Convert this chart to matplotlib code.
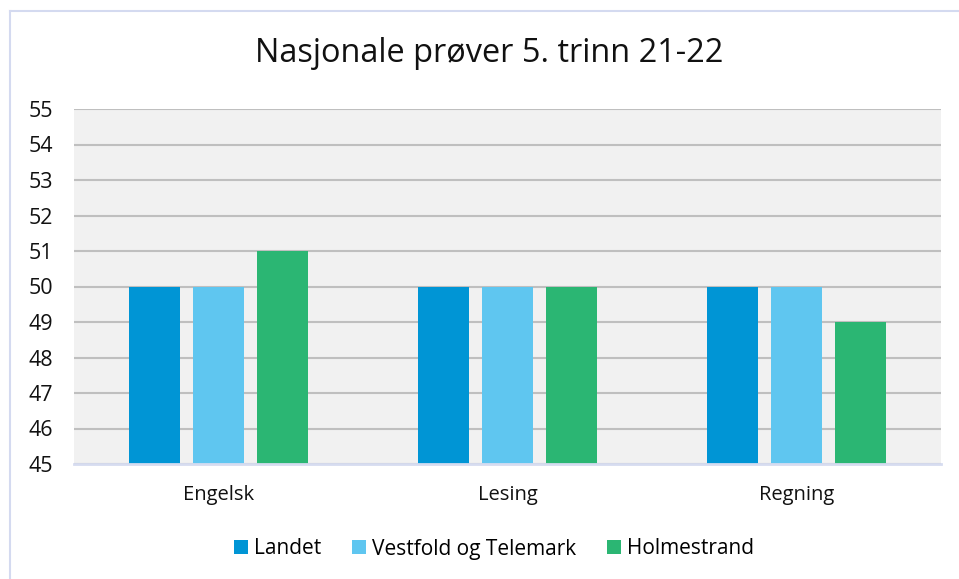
import numpy as np
import matplotlib
matplotlib.use("Agg")
import matplotlib.pyplot as plt
from matplotlib.patches import Patch

# data
subjects = ["Engelsk", "Lesing", "Regning"]
series_names = ["Landet", "Vestfold og Telemark", "Holmestrand"]
landet = [50, 50, 50]
vestfold = [50, 50, 50]
holmestrand = [51, 50, 49]
colors = ["#0095D5", "#5FC6F0", "#2BB673"]

plt.rcParams["font.family"] = ["Open Sans", "DejaVu Sans"]

fig = plt.figure(figsize=(9.59, 5.79), dpi=100)
ax = fig.add_axes([74 / 959, 1 - 464 / 579, 867 / 959, 355 / 579])

x = np.arange(len(subjects))
width = 0.176
step = 0.221
for i, (vals, name) in enumerate(zip([landet, vestfold, holmestrand], series_names)):
    ax.bar(x + (i - 1) * step, np.array(vals) - 45, width, bottom=45,
           color=colors[i], label=name, zorder=3)

ax.set_xlim(-0.5, 2.5)
ax.set_ylim(45, 55)
ax.set_yticks(range(45, 56))
ax.set_facecolor("#F1F1F1")
ax.yaxis.grid(True, color="#BFBFBF", linewidth=1.5, zorder=0)
ax.set_axisbelow(True)
for s in ["top", "right", "left"]:
    ax.spines[s].set_visible(False)
ax.spines["bottom"].set_color("#D6DCF0")
ax.spines["bottom"].set_linewidth(2)
ax.spines["bottom"].set_zorder(4)
ax.tick_params(axis="both", length=0, labelsize=15.5, colors="#111111")
ax.tick_params(axis="y", pad=15)
ax.tick_params(axis="x", pad=15)
ax.set_xticks(x)
ax.set_xticklabels(subjects, fontsize=14.5)

fig.text(489 / 959, 1 - 54 / 579, "Nasjonale prøver 5. trinn 21-22",
         ha="center", va="center", fontsize=23.4, color="#111111")

handles = [Patch(facecolor=c, label=n) for c, n in zip(colors, series_names)]
fig.legend(handles=handles, loc="center", bbox_to_anchor=(494 / 959, 1 - 549 / 579),
           ncol=3, frameon=False, fontsize=15, handlelength=0.68, handleheight=0.68,
           handletextpad=0.3, columnspacing=1.45)

# outer chart frame (only top and left edges visible in the crop)
fig.add_artist(plt.Line2D([10 / 959, 1], [1 - 11 / 579, 1 - 11 / 579],
                          transform=fig.transFigure, color="#D4DAF0", linewidth=1.5))
fig.add_artist(plt.Line2D([10 / 959, 10 / 959], [0, 1 - 11 / 579],
                          transform=fig.transFigure, color="#D4DAF0", linewidth=1.5))

fig.savefig("out.png", dpi=100)
